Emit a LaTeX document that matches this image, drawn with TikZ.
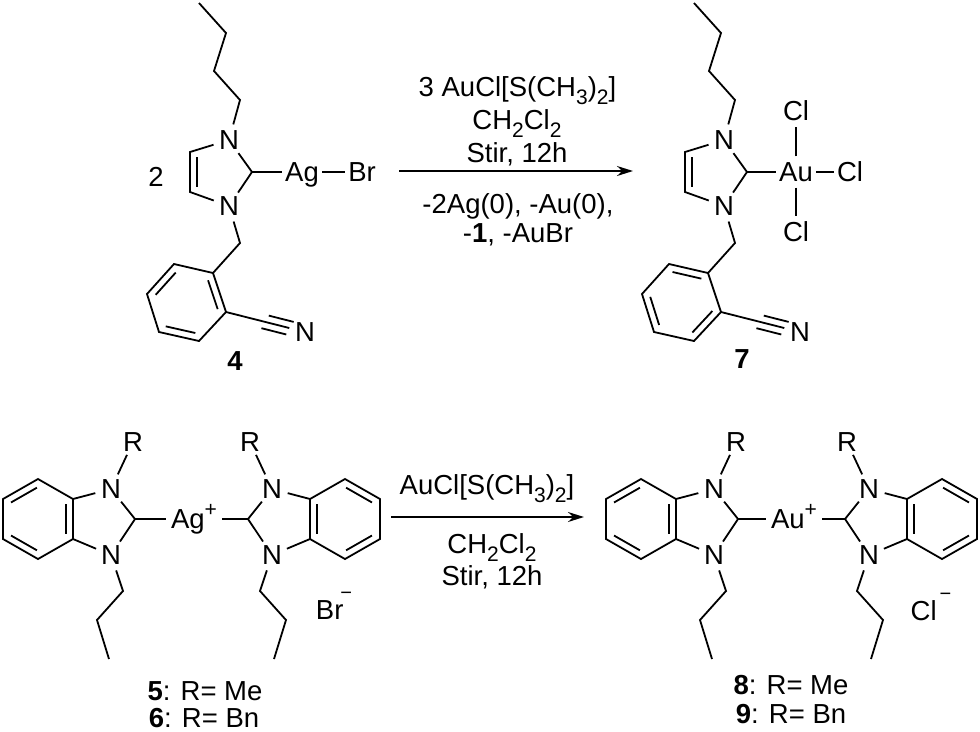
\documentclass[tikz,border=0pt]{standalone}
\usepackage{fontspec}
\setmainfont{Liberation Sans}
\usetikzlibrary{arrows.meta,calc}
\newcommand{\chemfont}{\fontsize{27.5}{31}\selectfont}
\newcommand{\lowtxt}[1]{\raisebox{-0.3em}{\fontsize{21}{21}\selectfont #1}}
\newcommand{\hightxt}[1]{\raisebox{0.42em}{\fontsize{21}{21}\selectfont #1}}
\newcommand{\chargetxt}[1]{\raisebox{0.73em}{\fontsize{20}{20}\selectfont #1}}
\tikzset{%
	bond/.style   = {line width=1.8pt,line join=miter},
	atom/.style   = {circle,inner sep=0pt,minimum size=32pt,text height=19pt,text depth=0pt},
	metal/.style  = {rectangle,inner xsep=3pt,inner ysep=6pt,text height=19pt,text depth=0pt},
	txt/.style    = {anchor=base,inner sep=0pt},
	rxnarrow/.style = {line width=1.8pt,-{Stealth[length=16pt,width=10pt]}},
}
% inner line of a double bond, to the right of a->b
\newcommand{\inbond}[2]{\draw[bond] ($(#1)!0.13!(#2)!7pt!-90:(#2)$) -- ($(#2)!0.13!(#1)!7pt!90:(#1)$);}
% imidazole ring with butyl and 2-cyanobenzyl arms
\newcommand{\nhcarms}{
	\coordinate (cc) at (252,172);
	\node[atom] (nt) at (229,140) {N};
	\node[atom] (nb) at (229,206) {N};
	\coordinate (r1) at (190,152);
	\coordinate (r2) at (190,192);
	\coordinate (p1) at (240,100);
	\coordinate (p2) at (214,71);
	\coordinate (p3) at (226,33);
	\coordinate (p4) at (199,3);
	\coordinate (m1) at (240,243);
	\coordinate (c1) at (213,273);
	\coordinate (c2) at (174,264);
	\coordinate (c3) at (147,294);
	\coordinate (c4) at (159,332);
	\coordinate (c5) at (199,341);
	\coordinate (c6) at (226,312);
	\node[atom] (cn) at (305,332) {N};
	\draw[bond] (cc) -- (nt) -- (r1) -- (r2) -- (nb) -- (cc);
	\draw[bond] (nt) -- (p1) -- (p2) -- (p3) -- (p4);
	\draw[bond] (nb) -- (m1) -- (c1);
	\draw[bond] (c1) -- (c2) -- (c3) -- (c4) -- (c5) -- (c6) -- cycle;
	\draw[bond] (c6) -- (cn);
	\inbond{r2}{r1}
	\draw[bond] ($(c6)!0.52!(cn)!7pt!90:(cn)$) -- ($(c6)!0.835!(cn)!7pt!90:(cn)$);
	\draw[bond] ($(c6)!0.47!(cn)!7pt!-90:(cn)$) -- ($(c6)!0.785!(cn)!7pt!-90:(cn)$);
}
% one half of the biscarbene cation
\newcommand{\halfcation}{
	\coordinate (b1) at (38,479);
	\coordinate (b2) at (73,499);
	\coordinate (b3) at (73,539);
	\coordinate (b4) at (38,559);
	\coordinate (b5) at (3,539);
	\coordinate (b6) at (3,499);
	\coordinate (cc) at (135,519);
	\coordinate (p1) at (123,591);
	\coordinate (p2) at (97,620);
	\coordinate (p3) at (109,659);
	\node[atom] (nt) at (111,489) {N};
	\node[atom] (nb) at (111,555) {N};
	\node[atom,minimum size=28pt] (rr) at (133,442) {R};
	\draw[bond] (b1) -- (b2) -- (b3) -- (b4) -- (b5) -- (b6) -- cycle;
	\draw[bond] (b2) -- (nt) -- (cc) -- (nb) -- (b3);
	\draw[bond] (nt) -- (rr);
	\draw[bond] (nb) -- (p1) -- (p2) -- (p3);
	\inbond{b2}{b3}
	\inbond{b4}{b5}
	\inbond{b6}{b1}
}
\begin{document}
\begin{tikzpicture}[x=1pt,y=-1pt,every node/.style={font=\chemfont}]
	\useasboundingbox (0,0) rectangle (980,731);
	% top row
	\node[atom] (two) at (156,177) {2};
	\begin{scope}[name prefix=ag-]
		\nhcarms
		\inbond{c1}{c6}
		\inbond{c3}{c2}
		\inbond{c5}{c4}
	\end{scope}
	\node[metal] (ag) at (302,172) {Ag};
	\node[metal] (br) at (362,172) {Br};
	\draw[bond] (ag-cc) -- (ag);
	\draw[bond] (ag) -- (br);
	\node[txt] (lab4) at (235,370) {\textbf{4}};
	\begin{scope}[shift={(495,0)},name prefix=au-]
		\nhcarms
		\inbond{c2}{c1}
		\inbond{c4}{c3}
		\inbond{c6}{c5}
	\end{scope}
	\node[metal] (au) at (796,172) {Au};
	\node[metal] (clr) at (850,172) {Cl};
	\node[metal] (clt) at (796,111) {Cl};
	\node[metal] (clb) at (796,232) {Cl};
	\draw[bond] (au-cc) -- (au);
	\draw[bond] (au) -- (clr);
	\draw[bond] (au) -- (clt);
	\draw[bond] (au) -- (clb);
	\node[txt] (lab7) at (742,368) {\textbf{7}};
	% top arrow
	\coordinate (ts) at (399,171);
	\coordinate (te) at (633,171);
	\draw[rxnarrow] (ts) -- (te);
	\node[txt] (t1) at (517.5,96) {3 AuCl[S(CH\lowtxt{3})\lowtxt{2}]};
	\node[txt] (t2) at (517,129) {CH\lowtxt{2}Cl\lowtxt{2}};
	\node[txt] (t3) at (517,162) {Stir, 12h};
	\node[txt] (t4) at (518,213) {-2Ag(0), -Au(0),};
	\node[txt] (t5) at (518,242) {-\textbf{1}, -AuBr};
	% bottom row, left cation
	\begin{scope}[name prefix=la-]
		\halfcation
	\end{scope}
	\begin{scope}[shift={(383,0)},xscale=-1,name prefix=ra-]
		\halfcation
	\end{scope}
	\node[metal,inner xsep=5pt] (agp) at (194,519) {Ag\hightxt{+}};
	\draw[bond] (la-cc) -- (agp);
	\draw[bond] (agp) -- (ra-cc);
	\node[metal] (brm) at (334,610) {Br\kern-3pt\chargetxt{−}};
	\node[txt] (lab5) at (205,700) {\textbf{5}: R= Me};
	\node[txt] (lab6) at (204,727) {\textbf{6}: R= Bn};
	% bottom arrow
	\coordinate (bs) at (391,517);
	\coordinate (be) at (584,517);
	\draw[rxnarrow] (bs) -- (be);
	\node[txt] (b1t) at (487,494) {AuCl[S(CH\lowtxt{3})\lowtxt{2}]};
	\node[txt] (b2t) at (492,553) {CH\lowtxt{2}Cl\lowtxt{2}};
	\node[txt] (b3t) at (492,585) {Stir, 12h};
	% bottom row, right cation
	\begin{scope}[shift={(603,0)},name prefix=lb-]
		\halfcation
	\end{scope}
	\begin{scope}[shift={(980,0)},xscale=-1,name prefix=rb-]
		\halfcation
	\end{scope}
	\node[metal,inner xsep=5pt] (aup) at (794,519) {Au\hightxt{+}};
	\draw[bond] (lb-cc) -- (aup);
	\draw[bond] (aup) -- (rb-cc);
	\node[metal] (clm) at (931,611) {Cl\kern3pt\chargetxt{−}};
	\node[txt] (lab8) at (791,694) {\textbf{8}: R= Me};
	\node[txt] (lab9) at (791,723) {\textbf{9}: R= Bn};
\end{tikzpicture}
\end{document}
